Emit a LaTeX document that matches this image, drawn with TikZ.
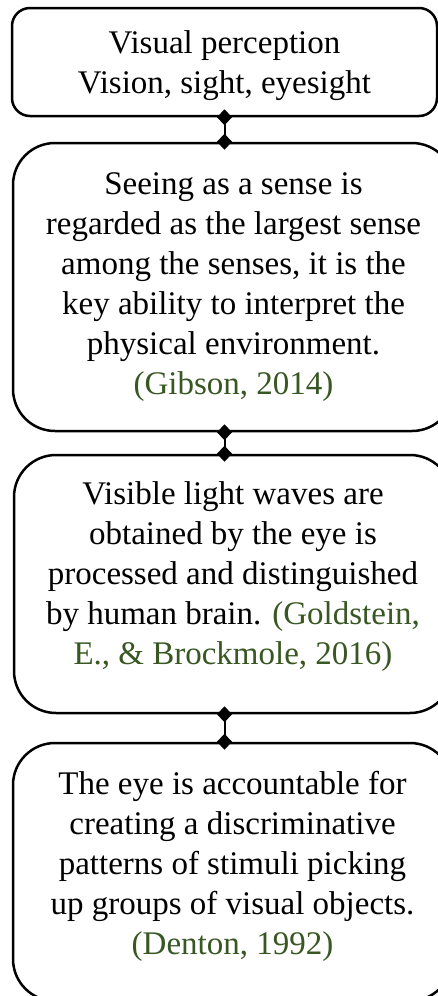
\documentclass[tikz,border=0pt]{standalone}
\usepackage{fontspec}
\setmainfont{Liberation Serif}
\usepackage{tikz}
\usetikzlibrary{arrows.meta, positioning}
\definecolor{citegreen}{HTML}{385723}

\begin{document}
\begin{tikzpicture}[
    x=0.5pt, y=-0.5pt,
    card/.style={draw=black, line width=1.25pt, fill=white, align=center,
      font=\fontsize{16.5}{20}\selectfont, inner sep=0pt},
    link/.style={line width=1pt, {Diamond[length=8pt,width=7.5pt]}-{Diamond[length=8pt,width=7.5pt]},
      shorten <=-4pt, shorten >=-4pt},
    cite/.style={color=citegreen}
  ]
    \useasboundingbox (0,0) rectangle (438,996);
    \node[card, rounded corners=9pt, minimum width=212.5pt, minimum height=54pt,
      text depth=-2pt] (b1) at (224.5,62)
      {Visual perception\\ Vision, sight, eyesight};
    \node[card, rounded corners=21pt, minimum width=220.5pt, minimum height=144pt] (b2) at (233.5,287)
      {Seeing as a sense is\\ regarded as the largest sense\\ among the senses, it is the\\
       key ability to interpret the\\ physical environment.\\ \textcolor{citegreen}{(Gibson, 2014)}};
    \node[card, rounded corners=21pt, minimum width=219pt, minimum height=129pt,
      text depth=10.5pt] (b3) at (233,584)
      {Visible light waves are\\ obtained by the eye is\\ processed and distinguished\\
       by human brain. \textcolor{citegreen}{(Goldstein,}\\ \textcolor{citegreen}{E., \& Brockmole, 2016)}};
    \node[card, rounded corners=21pt, minimum width=219.5pt, minimum height=129pt,
      text depth=9.5pt] (b4) at (232.5,872)
      {The eye is accountable for\\ creating a discriminative\\ patterns of stimuli picking\\
       up groups of visual objects.\\ \textcolor{citegreen}{(Denton, 1992)}};
    % connectors
    \draw[link] (b1.south) -- (b2.north -| b1.south);
    \draw[link] (b2.south -| b1.south) -- (b3.north -| b1.south);
    \draw[link] (b3.south -| b1.south) -- (b4.north -| b1.south);
  \end{tikzpicture}
\end{document}
